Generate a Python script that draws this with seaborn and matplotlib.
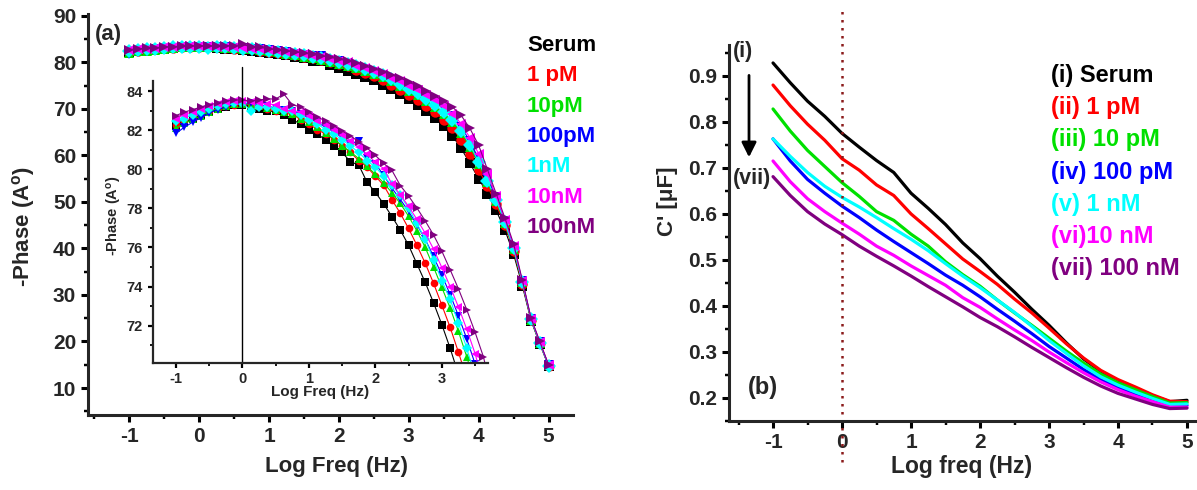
import numpy as np
import pandas as pd
import matplotlib
matplotlib.use("Agg")
import matplotlib.pyplot as plt
import seaborn as sns
from matplotlib.lines import Line2D
from matplotlib.ticker import MultipleLocator, FormatStrFormatter

# ---------------- data: panel (a), -phase vs log f ----------------
log_f_a = np.arange(-1, 5.001, 0.125)   # 8 points / decade, 0.1 Hz .. 100 kHz

phase_serum = [82.20, 82.40, 82.60, 82.80, 82.95, 83.10, 83.20, 83.30, 83.30, 83.20,
               83.10, 82.96, 82.98, 82.76, 82.53, 82.33, 82.03, 81.81, 81.51, 81.20,
               80.86, 80.39, 80.22, 79.34, 78.82, 78.23, 77.58, 76.89, 76.11, 75.16,
               74.21, 73.17, 72.05, 70.84, 69.50, 68.00, 66.30, 64.20, 61.50, 58.30,
               55.00, 51.80, 48.20, 44.00, 38.80, 32.00, 24.50, 19.50, 14.70]
phase_1pM = [82.25, 82.45, 82.65, 82.85, 83.00, 83.12, 83.25, 83.30, 83.35, 83.30,
             83.22, 83.10, 82.96, 82.93, 82.84, 82.53, 82.33, 82.03, 81.81, 81.51,
             81.20, 80.86, 80.45, 80.11, 79.65, 79.18, 78.44, 77.75, 76.97, 76.11,
             75.19, 74.17, 73.05, 71.91, 70.63, 69.30, 67.70, 65.80, 63.40, 60.30,
             56.90, 53.40, 49.50, 45.00, 39.50, 32.40, 24.70, 19.60, 14.80]
phase_10pM = [82.10, 82.35, 82.55, 82.75, 82.95, 83.10, 83.25, 83.35, 83.35, 83.30,
              83.25, 83.15, 83.05, 82.95, 82.85, 82.60, 82.40, 82.15, 81.85, 81.55,
              81.20, 80.90, 80.55, 80.15, 79.75, 79.30, 78.80, 78.25, 77.60, 76.85,
              76.00, 75.00, 73.95, 72.90, 71.70, 70.40, 69.00, 67.20, 64.90, 61.90,
              58.20, 54.20, 50.20, 45.40, 39.80, 32.70, 24.70, 19.70, 14.90]
phase_100pM = [81.84, 82.15, 82.41, 82.64, 82.88, 83.05, 83.19, 83.33, 83.35, 83.40,
               83.30, 83.24, 83.14, 83.02, 82.97, 82.85, 82.62, 82.41, 82.15, 81.90,
               81.63, 81.32, 81.45, 80.58, 80.29, 79.69, 79.03, 78.46, 77.84, 77.16,
               76.42, 75.54, 74.59, 73.59, 72.50, 71.32, 70.04, 68.50, 66.20, 63.00,
               59.30, 55.20, 51.00, 46.00, 40.20, 32.90, 24.90, 19.80, 14.90]
phase_1nM = [82.45, 82.60, 82.80, 82.95, 83.10, 83.25, 83.35, 83.40, 83.40, 83.00,
             83.20, 83.20, 83.10, 82.96, 82.98, 82.76, 82.53, 82.33, 82.03, 81.81,
             81.51, 81.20, 80.86, 80.45, 80.11, 79.65, 79.18, 78.66, 78.01, 77.23,
             76.42, 75.36, 74.30, 73.34, 72.13, 70.84, 69.40, 67.60, 65.30, 62.30,
             58.60, 54.60, 50.50, 45.60, 40.00, 32.80, 24.80, 19.70, 14.80]
phase_10nM = [82.60, 82.80, 82.95, 83.10, 83.25, 83.35, 83.45, 83.50, 83.50, 83.45,
              83.40, 83.35, 83.30, 83.07, 82.96, 82.94, 82.71, 82.49, 82.27, 81.99,
              81.75, 81.45, 81.13, 80.77, 80.36, 80.04, 79.24, 78.70, 78.10, 77.44,
              76.73, 75.92, 74.97, 74.00, 72.95, 71.81, 70.57, 69.00, 66.80, 63.80,
              60.40, 56.00, 51.20, 46.20, 40.60, 33.00, 24.90, 19.90, 15.00]
phase_100nM = [82.75, 82.93, 83.05, 83.19, 83.30, 83.40, 83.50, 83.55, 83.55, 83.50,
               83.55, 83.60, 83.60, 83.85, 83.30, 83.20, 82.91, 82.69, 82.47, 82.23,
               81.96, 81.71, 81.41, 81.09, 80.71, 80.30, 79.94, 79.17, 78.63, 78.02,
               77.36, 76.64, 75.81, 74.86, 73.88, 72.81, 71.66, 70.41, 68.60, 65.80,
               62.20, 57.00, 51.80, 46.60, 41.00, 33.20, 25.00, 20.00, 15.00]

conc_a = ["Serum", "1 pM", "10pM", "100pM", "1nM", "10nM", "100nM"]
phase_all = [phase_serum, phase_1pM, phase_10pM, phase_100pM,
             phase_1nM, phase_10nM, phase_100nM]

# ---------------- data: panel (b), C' vs log f ----------------
log_f_b = np.arange(-1, 5.001, 0.25)

cap_serum = [0.928, 0.885, 0.845, 0.812, 0.775, 0.745, 0.716, 0.690, 0.645, 0.612,
             0.577, 0.537, 0.503, 0.465, 0.430, 0.393, 0.358, 0.320, 0.285, 0.258,
             0.238, 0.222, 0.205, 0.192, 0.195]
cap_1pM = [0.880, 0.835, 0.795, 0.760, 0.720, 0.695, 0.663, 0.640, 0.600, 0.568,
           0.535, 0.502, 0.475, 0.447, 0.415, 0.385, 0.352, 0.318, 0.287, 0.260,
           0.240, 0.224, 0.207, 0.193, 0.192]
cap_10pM = [0.828, 0.780, 0.738, 0.703, 0.668, 0.638, 0.605, 0.586, 0.556, 0.530,
            0.496, 0.468, 0.443, 0.413, 0.385, 0.358, 0.330, 0.302, 0.276, 0.252,
            0.233, 0.218, 0.203, 0.189, 0.190]
cap_100pM = [0.763, 0.715, 0.675, 0.645, 0.617, 0.592, 0.565, 0.540, 0.516, 0.492,
             0.467, 0.445, 0.420, 0.393, 0.367, 0.340, 0.312, 0.287, 0.262, 0.240,
             0.222, 0.208, 0.195, 0.183, 0.184]
cap_1nM = [0.763, 0.725, 0.690, 0.660, 0.636, 0.615, 0.592, 0.568, 0.545, 0.520,
           0.492, 0.465, 0.440, 0.413, 0.386, 0.356, 0.325, 0.297, 0.270, 0.246,
           0.228, 0.213, 0.199, 0.186, 0.187]
cap_10nM = [0.715, 0.670, 0.633, 0.605, 0.580, 0.556, 0.530, 0.510, 0.487, 0.466,
            0.445, 0.418, 0.397, 0.372, 0.348, 0.325, 0.300, 0.277, 0.255, 0.235,
            0.218, 0.204, 0.192, 0.180, 0.180]
cap_100nM = [0.681, 0.640, 0.605, 0.578, 0.555, 0.530, 0.508, 0.487, 0.465, 0.442,
             0.420, 0.398, 0.375, 0.355, 0.333, 0.310, 0.288, 0.266, 0.245, 0.226,
             0.210, 0.198, 0.186, 0.177, 0.178]

labels_b = ["(i) Serum", "(ii) 1 pM", "(iii) 10 pM", "(iv) 100 pM",
            "(v) 1 nM", "(vi)10 nM", "(vii) 100 nM"]
cap_all = [cap_serum, cap_1pM, cap_10pM, cap_100pM, cap_1nM, cap_10nM, cap_100nM]

colors = ["#000000", "#ff0000", "#00e000", "#0000ff", "#00ffff", "#ff00ff", "#800080"]
markers = ["s", "o", "^", "v", "D", "<", ">"]

# long-form tables for seaborn
df_a = pd.concat([pd.DataFrame({"logf": log_f_a, "phase": v, "conc": c})
                  for c, v in zip(conc_a, phase_all)], ignore_index=True)
df_b = pd.concat([pd.DataFrame({"logf": log_f_b, "cap": v, "conc": c})
                  for c, v in zip(labels_b, cap_all)], ignore_index=True)

sns.set_style("ticks")
plt.rcParams["font.family"] = ["Liberation Sans", "DejaVu Sans"]
plt.rcParams["font.weight"] = "bold"
plt.rcParams["axes.labelweight"] = "bold"
plt.rcParams["axes.unicode_minus"] = False
plt.rcParams["mathtext.fontset"] = "custom"
plt.rcParams["mathtext.rm"] = "Liberation Sans:bold"
plt.rcParams["mathtext.it"] = "Liberation Sans:bold"
plt.rcParams["mathtext.bf"] = "Liberation Sans:bold"

W, H = 1197, 490
fig = plt.figure(figsize=(W / 100, H / 100), dpi=100)
ax_a = fig.add_axes([88 / W, 75 / H, 485 / W, 401 / H])
ax_in = fig.add_axes([152.7 / W, 127.3 / H, 335 / W, 281.7 / H])
ax_b = fig.add_axes([729 / W, 69 / H, 468 / W, 376 / H])


def style_axis(ax, lw, major_len, minor_len, labelsize):
    for s in ["top", "right"]:
        ax.spines[s].set_visible(False)
    for s in ["left", "bottom"]:
        ax.spines[s].set_linewidth(lw)
    ax.tick_params(which="major", direction="out", length=major_len, width=lw,
                   labelsize=labelsize, color="k")
    ax.tick_params(which="minor", direction="out", length=minor_len, width=lw * 0.8,
                   color="k")
    for t in ax.get_xticklabels() + ax.get_yticklabels():
        t.set_fontweight("bold")


# ---------------- panel (a) ----------------
sns.lineplot(data=df_a, x="logf", y="phase", hue="conc", style="conc",
             hue_order=conc_a, style_order=conc_a, palette=colors,
             markers=markers, dashes=False, markersize=7.5, markeredgewidth=0,
             linewidth=0.8, estimator=None, legend=False, ax=ax_a)
ax_a.set_xlim(-1.59, 5.35)
ax_a.set_ylim(4.2, 90.4)
ax_a.xaxis.set_major_locator(MultipleLocator(1))
ax_a.xaxis.set_minor_locator(MultipleLocator(0.5))
ax_a.yaxis.set_major_locator(MultipleLocator(10))
ax_a.yaxis.set_minor_locator(MultipleLocator(5))
style_axis(ax_a, 2.2, 5, 3, 15)
ax_a.set_xlabel("Log Freq (Hz)", fontsize=16, va="center")
ax_a.set_ylabel("-Phase (A$^{o}$)", fontsize=16, va="center")
ax_a.xaxis.set_label_coords(0.513, -0.128)
ax_a.yaxis.set_label_coords(-0.134, 0.47)
ax_a.text(-1.3, 85.9, "(a)", ha="center", va="center", fontsize=16, fontweight="bold")

leg_a = ax_a.legend([Line2D([], [], ls="none") for _ in conc_a], conc_a,
                    loc="upper left", bbox_to_anchor=(527 / W, 455 / H),
                    bbox_transform=fig.transFigure, frameon=False,
                    handlelength=0, handletextpad=0, borderpad=0, borderaxespad=0,
                    labelspacing=0.42, prop={"size": 16, "weight": "bold"},
                    labelcolor=colors)

# ---------------- inset ----------------
sns.lineplot(data=df_a, x="logf", y="phase", hue="conc", style="conc",
             hue_order=conc_a, style_order=conc_a, palette=colors,
             markers=markers, dashes=False, markersize=5.5, markeredgewidth=0,
             linewidth=0.8, estimator=None, legend=False, ax=ax_in)
ax_in.set_facecolor("none")
ax_in.set_xlim(-1.35, 3.69)
ax_in.set_ylim(70.1, 84.52)
ax_in.xaxis.set_major_locator(MultipleLocator(1))
ax_in.xaxis.set_minor_locator(MultipleLocator(0.5))
ax_in.yaxis.set_major_locator(MultipleLocator(2))
ax_in.yaxis.set_minor_locator(MultipleLocator(1))
style_axis(ax_in, 1.6, 3.5, 2, 10.5)
ax_in.axvline(0, ymin=0, ymax=1.05, color="k", lw=1, clip_on=False)
ax_in.set_xlabel("Log Freq (Hz)", fontsize=11, va="center")
ax_in.set_ylabel("-Phase (A$^{o}$)", fontsize=10.5, va="center")
ax_in.xaxis.set_label_coords(0.5, -0.104)
ax_in.yaxis.set_label_coords(-0.115, 0.52)

# ---------------- panel (b) ----------------
sns.lineplot(data=df_b, x="logf", y="cap", hue="conc", hue_order=labels_b,
             palette=colors, linewidth=2.3, estimator=None, legend=False, ax=ax_b)
ax_b.set_xlim(-1.638, 5.145)
ax_b.set_ylim(0.15, 0.967)
ax_b.xaxis.set_major_locator(MultipleLocator(1))
ax_b.xaxis.set_minor_locator(MultipleLocator(0.5))
ax_b.yaxis.set_major_locator(MultipleLocator(0.1))
ax_b.yaxis.set_minor_locator(MultipleLocator(0.05))
ax_b.yaxis.set_major_formatter(FormatStrFormatter("%.1f"))
style_axis(ax_b, 2.2, 5, 3, 15)
ax_b.axvline(0, ymin=-0.109, ymax=1.10, color="#8b1a1a", lw=1.8,
             ls=(0, (1, 2.2)), clip_on=False)
ax_b.set_xlabel("Log freq (Hz)", fontsize=16.5, va="center")
ax_b.set_ylabel("C' [\u03bcF]", fontsize=16, va="center")
ax_b.xaxis.set_label_coords(0.496, -0.122)
ax_b.yaxis.set_label_coords(-0.132, 0.585)

ax_b.text(-1.43, 0.952, "(i)", ha="center", va="center", fontsize=15.5, fontweight="bold")
ax_b.text(-1.30, 0.678, "(vii)", ha="center", va="center", fontsize=15.5, fontweight="bold")
ax_b.text(-1.145, 0.222, "(b)", ha="center", va="center", fontsize=17, fontweight="bold")
ax_b.annotate("", xy=(-1.348, 0.717), xytext=(-1.348, 0.907),
              arrowprops=dict(arrowstyle="-|>", lw=2, color="k", mutation_scale=22))

leg_b = ax_b.legend([Line2D([], [], ls="none") for _ in labels_b], labels_b,
                    loc="upper left", bbox_to_anchor=(1051 / W, 426 / H),
                    bbox_transform=fig.transFigure, frameon=False,
                    handlelength=0, handletextpad=0, borderpad=0, borderaxespad=0,
                    labelspacing=0.39, prop={"size": 17, "weight": "bold"},
                    labelcolor=colors)

fig.savefig("out.png", dpi=100)
